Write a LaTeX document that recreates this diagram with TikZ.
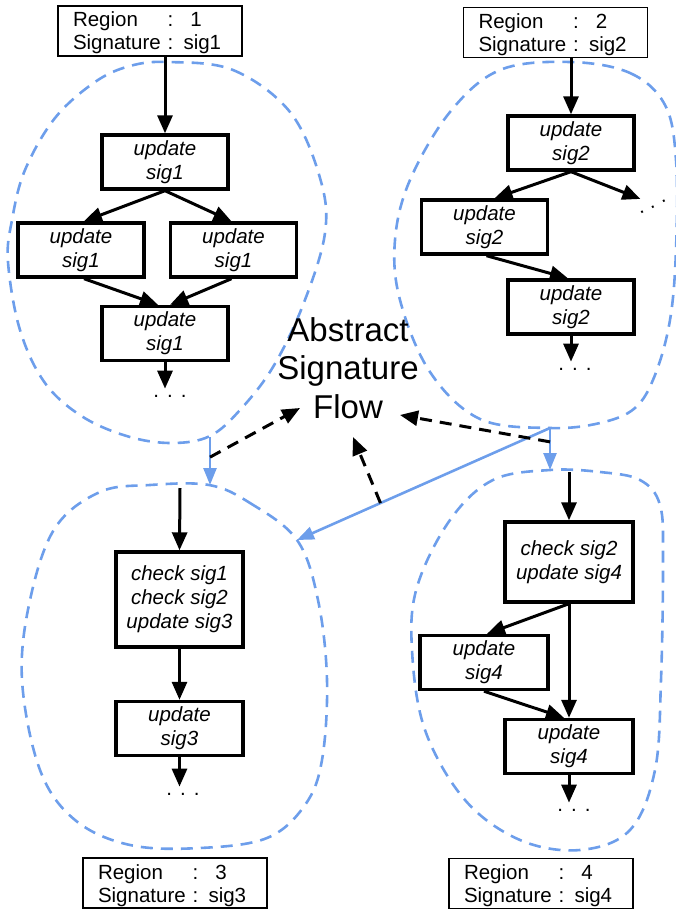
\documentclass[tikz,border=0pt]{standalone}
\usepackage{fontspec}
\setmainfont{Liberation Sans}
\usetikzlibrary{arrows.meta,calc}
\definecolor{regionblue}{HTML}{6D9EEB}

\tikzset{
  regionbox/.style={draw, line width=1.8pt, minimum width=184pt, minimum height=50pt,
    inner ysep=0pt, inner xsep=15pt, text width=154pt, align=left,
    text height=21pt, text depth=29pt,
    font=\fontsize{20.5}{23}\selectfont},
  opbox/.style={draw, line width=3.4pt, minimum width=126pt, minimum height=54pt,
    inner sep=0pt, align=center, font=\fontsize{20.5}{24}\selectfont\itshape},
  flow/.style={line width=3pt, -{Triangle[length=18pt,width=15pt]}},
  hint/.style={flow, dash pattern=on 12pt off 8pt},
  blob/.style={regionblue, line width=2.6pt, dash pattern=on 12pt off 8pt},
  handoff/.style={regionblue, line width=2.6pt, -{Triangle[length=17pt,width=13pt]}},
  more/.style={font=\fontsize{20.5}{24}\selectfont, inner sep=0pt, anchor=base},
}
\newcommand{\regiontext}[2]{%
  \begin{tabular}[t]{@{}l@{ : }l@{}}Region & ~#1\\ Signature & #2\end{tabular}}
\newcommand{\moredots}{.\hspace{8pt}.\hspace{8pt}.}

\begin{document}
\begin{tikzpicture}[x=1pt,y=-1pt]
\useasboundingbox (0,0) rectangle (676,910);

% ---- region outlines ----
\draw[blob] plot[smooth cycle, tension=0.6] coordinates {
  (168,62) (233,70) (290,112) (320,178) (325,233) (303,305) (273,367)
  (240,410) (210,436) (173,443) (130,437) (83,417) (45,383) (20,330)
  (8,262) (12,220) (25,170) (55,118) (95,82) (130,66)};
\draw[blob] plot[smooth cycle, tension=0.6] coordinates {
  (570,62) (630,73) (665,105) (676,160) (676,250) (670,320) (655,375)
  (635,408) (600,423) (550,428) (480,419) (430,372) (400,300) (395,240)
  (410,180) (450,112) (500,70)};
\draw[blob] plot[smooth cycle, tension=0.6] coordinates {
  (209,485) (250,503) (297,540) (318,600) (327,680) (322,760) (305,805)
  (267,838) (200,848) (130,845) (75,820) (40,770) (22,680) (30,600)
  (55,528) (100,492) (150,485)};
\draw[blob] plot[smooth cycle, tension=0.6] coordinates {
  (550,470) (600,472) (640,480) (660,505) (663,560) (661,680) (655,770)
  (630,830) (580,850) (520,840) (465,800) (425,730) (412,650) (417,587)
  (450,520) (493,480)};

% ---- points on the outlines ----
\coordinate (b1out) at (210,437);
\coordinate (b2out) at (550,428);
\coordinate (b3in) at (210,485);
\coordinate (b3side) at (297,540);
\coordinate (b4in) at (550,470);
\coordinate (c3top) at (180,488);
\coordinate (d4top) at (569,472);

% ---- region labels ----
\node[regionbox] (r1) at (150,31) {\regiontext{1}{sig1}};
\node[regionbox] (r2) at (555.5,32.5) {\regiontext{2}{sig2}};
\node[regionbox] (r3) at (175,883) {\regiontext{3}{sig3}};
\node[regionbox] (r4) at (541,883.5) {\regiontext{4}{sig4}};

% ---- region 1 ----
\node[opbox] (a1) at (165,162) {update\\sig1};
\node[opbox] (a2) at (81,250) {update\\sig1};
\node[opbox] (a3) at (233.5,250) {update\\sig1};
\node[opbox] (a4) at (165,333.5) {update\\sig1};
\node[more] (a4more) at (170,397) {\moredots};
\draw[flow] (a1.north |- r1.south) -- (a1.north);
\draw[flow] (a1.south) -- ([xshift=3pt]a2.north);
\draw[flow] (a1.south) -- ([xshift=-2pt]a3.north);
\draw[flow] ([xshift=3pt]a2.south) -- ([xshift=-7pt]a4.north);
\draw[flow] ([xshift=-2pt]a3.south) -- ([xshift=5pt]a4.north);
\draw[flow, shorten >=6pt] (a4.south) -- (a4.south |- a4more.north);

% ---- region 2 ----
\node[opbox] (b1) at (571,143) {update\\sig2};
\node[opbox] (b2) at (484.5,227) {update\\sig2};
\node[opbox] (b3) at (571,307) {update\\sig2};
\node[more, rotate=27, anchor=center] (b1more) at (653,207) {.\hspace{6.5pt}.\hspace{6.5pt}.};
\node[more] (b3more) at (575,370) {\moredots};
\draw[flow] (b1.north |- r2.south) -- (b1.north);
\draw[flow] (b1.south) -- ([xshift=10pt]b2.north);
\draw[flow] (b1.south) -- ([shift={(1pt,15pt)}]b1more.west);
\draw[flow] ([xshift=2pt]b2.south) -- ([xshift=-3pt]b3.north);
\draw[flow, shorten >=6pt] (b3.south) -- (b3.south |- b3more.north);

% ---- region 3 ----
\node[opbox, minimum width=127pt, minimum height=95pt] (c1) at (179.5,599.5)
  {check sig1\\check sig2\\update sig3};
\node[opbox, minimum width=127pt] (c2) at (179.5,728.5) {update\\sig3};
\node[more] (c2more) at (183,795) {\moredots};
\draw[flow] (c3top) -- (c1.north);
\draw[flow] (c1.south) -- (c2.north);
\draw[flow, shorten >=6pt] (c2.south) -- (c2.south |- c2more.north);

% ---- region 4 ----
\node[opbox, minimum width=128pt, minimum height=80pt] (d1) at (569,562)
  {check sig2\\update sig4};
\node[opbox, minimum width=128pt] (d2) at (484,662.5) {update\\sig4};
\node[opbox, minimum width=128pt] (d3) at (569,746.5) {update\\sig4};
\node[more] (d3more) at (574,811) {\moredots};
\draw[flow] (d4top) -- (d1.north);
\draw[flow] (d1.south) -- ([xshift=3pt]d2.north);
\draw[flow] (d1.south) -- (d3.north);
\draw[flow] (d2.south) -- ([xshift=-5pt]d3.north);
\draw[flow, shorten >=6pt] (d3.south) -- (d3.south |- d3more.north);

% ---- hand-over between regions ----
\draw[handoff] (b1out) -- (b3in);
\draw[handoff] (b2out) -- (b4in);
\draw[handoff] (b2out) -- (b3side);

% ---- abstract signature flow ----
\node[align=center, inner sep=0pt, font=\fontsize{33}{38.5}\selectfont] (asf)
  at (348,368) {Abstract\\Signature\\Flow};
\coordinate (asfW) at (300,408);
\coordinate (asfE) at (400,415);
\coordinate (asfS) at (353,437);
\draw[hint] ($(b1out)!0.42!(b3in)$) -- (asfW);
\draw[hint] ($(b2out)!0.33!(b4in)$) -- (asfE);
\draw[hint] ($(b2out)!0.67!(b3side)$) -- (asfS);
\end{tikzpicture}
\end{document}
